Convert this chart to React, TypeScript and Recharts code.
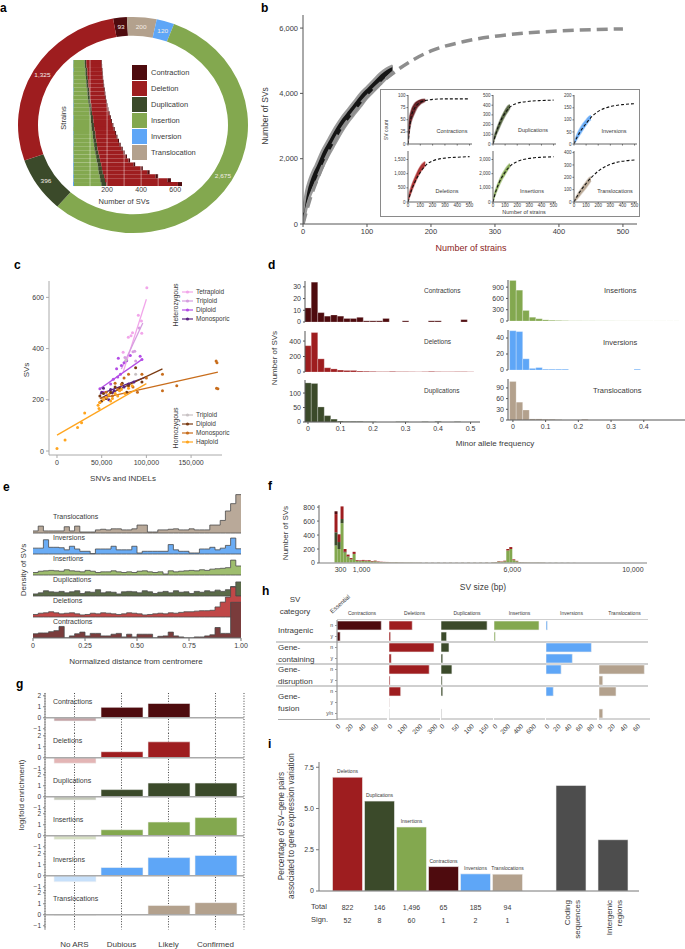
import React from 'react'
import {
  PieChart, Pie, Cell, BarChart, Bar, XAxis, YAxis, ComposedChart, Area, Line,
  Scatter, ReferenceLine, CartesianGrid, LabelList,
} from 'recharts'

const F = '"Liberation Sans", Arial, Helvetica, sans-serif'
const INK = '#3a3a3a'

const CON = '#4e0b0e'
const DEL = '#9e1d1f'
const DUP = '#3b4a2a'
const INS = '#83a84f'
const INV = '#5ea6f7'
const TRA = '#b3a18d'

// a: SV counts per type, per-strain stacked totals
const DONUT_TYPES = ['Contraction', 'Translocation', 'Inversion', 'Insertion', 'Duplication', 'Deletion']
const DONUT_COUNTS = [93, 200, 120, 2675, 396, 1325]
const DONUT_COLORS = [CON, TRA, INV, INS, DUP, DEL]
const LEGEND_TYPES = ['Contraction', 'Deletion', 'Duplication', 'Insertion', 'Inversion', 'Translocation']
const LEGEND_COLORS = [CON, DEL, DUP, INS, INV, TRA]

const STRAIN_INV = [3, 2, 4, 2, 3, 3, 2, 4, 3, 2, 3, 4, 3, 2, 4, 3, 3, 2, 4, 3, 3, 4, 2, 3, 4, 3, 5, 4, 3, 5, 4, 6]
const STRAIN_INS = [65, 67, 69, 71, 73, 75, 77, 80, 82, 85, 87, 90, 93, 96, 99, 102, 105, 108, 111, 114, 117, 120, 124, 128, 132, 136, 140, 144, 148, 152, 156, 160]
const STRAIN_DUP = [10, 10, 11, 11, 11, 12, 12, 12, 13, 13, 13, 14, 14, 14, 15, 15, 15, 16, 16, 16, 17, 17, 18, 18, 19, 20, 21, 22, 24, 26, 28, 30]
const STRAIN_DEL = [89, 89, 86, 88, 87, 87, 88, 87, 88, 90, 91, 91, 93, 98, 99, 104, 109, 113, 116, 122, 127, 132, 141, 148, 154, 167, 189, 228, 261, 301, 367, 420]
const STRAIN_CON = [3, 3, 3, 3, 3, 3, 4, 4, 4, 4, 4, 4, 5, 5, 5, 5, 5, 6, 6, 6, 6, 7, 7, 7, 8, 9, 10, 12, 14, 16, 20, 24]

// b: accumulation curve
const B_STRAINS = [0, 2, 5, 10, 15, 20, 30, 40, 50, 60, 70, 80, 90, 100, 110, 120, 130, 140]
const B_LO = [0, 150, 450, 800, 1050, 1250, 1700, 2100, 2450, 2800, 3100, 3350, 3600, 3850, 4050, 4250, 4450, 4650]
const B_HI = [350, 650, 1000, 1350, 1600, 1800, 2250, 2600, 2950, 3250, 3500, 3750, 4000, 4200, 4400, 4600, 4750, 4850]
const B_FIT_X = [0, 10, 25, 50, 75, 100, 150, 200, 250, 300, 350, 400, 450, 500]
const B_FIT_Y = [0, 700, 1500, 2550, 3300, 3900, 4750, 5300, 5580, 5750, 5850, 5910, 5950, 5975]

const INSET_X = [0, 10, 25, 50, 75, 100, 125, 140]
const INSET_FIT_X = [0, 25, 50, 100, 150, 200, 300, 400, 500]
const IN_CON_LO = [0, 25, 45, 62, 75, 82, 86, 88]
const IN_CON_HI = [15, 50, 68, 82, 88, 91, 92, 92]
const IN_CON_FIT = [0, 55, 72, 86, 90, 92, 93, 93, 93]
const IN_DUP_LO = [0, 40, 90, 160, 230, 290, 340, 370]
const IN_DUP_HI = [20, 80, 140, 220, 290, 350, 395, 405]
const IN_DUP_FIT = [0, 110, 200, 320, 390, 420, 440, 448, 452]
const IN_INV_LO = [0, 8, 20, 40, 60, 78, 95, 100]
const IN_INV_HI = [5, 20, 40, 65, 85, 100, 115, 118]
const IN_INV_FIT = [0, 28, 50, 85, 115, 135, 155, 163, 167]
const IN_DEL_LO = [0, 150, 330, 600, 850, 1050, 1200, 1300]
const IN_DEL_HI = [80, 300, 520, 800, 1050, 1250, 1380, 1420]
const IN_DEL_FIT = [0, 380, 650, 1050, 1320, 1450, 1550, 1580, 1600]
const IN_INS_LO = [0, 300, 650, 1150, 1600, 1950, 2300, 2500]
const IN_INS_HI = [150, 550, 950, 1500, 1950, 2300, 2600, 2700]
const IN_INS_FIT = [0, 800, 1350, 2100, 2600, 2850, 3080, 3160, 3190]
const IN_TRA_LO = [0, 10, 25, 55, 85, 115, 150, 170]
const IN_TRA_HI = [10, 30, 55, 95, 130, 165, 195, 205]
const IN_TRA_FIT = [0, 45, 85, 150, 205, 250, 305, 330, 340]

// c: SVs vs SNVs/INDELs
const HET_TETRA_X = [100500, 91000, 94500, 94800, 84500, 82800, 79800, 74000]
const HET_TETRA_Y = [638, 530, 508, 460, 462, 450, 444, 386]
const HET_TRI_X = [85000, 87000, 88000, 76000, 92000]
const HET_TRI_Y = [388, 390, 352, 365, 480]
const HET_DIP_X = [48000, 68600, 66700, 78000, 82000, 72000, 68000, 93000, 95000, 52000, 60000, 71000, 75000, 63000]
const HET_DIP_Y = [243, 362, 321, 353, 373, 334, 289, 370, 357, 230, 262, 300, 345, 280]
const HET_MONO_X = [50000, 55000, 60000, 62000, 64000, 70000, 75000, 80000, 86000, 52000, 58000]
const HET_MONO_Y = [230, 215, 240, 228, 235, 245, 250, 262, 270, 245, 200]
const HOM_TRI_X = [77000, 88000]
const HOM_TRI_Y = [355, 300]
const HOM_DIP_X = [48000, 52000, 55000, 60000, 65000, 70000, 73000, 78000, 80000, 88000, 95000, 50000]
const HOM_DIP_Y = [215, 225, 205, 230, 250, 245, 265, 230, 255, 325, 270, 195]
const HOM_MONO_X = [48000, 55000, 62000, 68000, 72000, 75000, 80000, 85000, 90000, 95000, 118000, 118000, 134000, 178000, 179000, 178500, 180000, 100000, 65000]
const HOM_MONO_Y = [190, 230, 215, 240, 260, 285, 300, 250, 230, 300, 235, 300, 255, 352, 345, 245, 243, 285, 265]
const HAP_X = [0, 9000, 23000, 27500, 31000, 46000, 47000, 48000, 52000, 55000, 58000, 62000, 65000, 68000, 72000, 76000, 80000, 84000, 60000, 70000]
const HAP_Y = [10, 43, 92, 110, 149, 179, 166, 190, 200, 210, 220, 205, 225, 215, 240, 225, 245, 255, 195, 235]
const FIT_TETRA = { x: [74000, 100000], y: [308, 593] }
const FIT_HET_TRI = { x: [72000, 96000], y: [320, 500] }
const FIT_HET_DIP = { x: [48000, 96000], y: [243, 360] }
const FIT_HET_MONO = { x: [48000, 100000], y: [222, 290] }
const FIT_HOM_DIP = { x: [48000, 118000], y: [205, 321] }
const FIT_HOM_MONO = { x: [48000, 180000], y: [205, 308] }
const FIT_HAP = { x: [0, 100000], y: [62, 263] }

// d: minor allele frequency histograms
const MAF_BINS = [0, 0.02, 0.04, 0.06, 0.08, 0.1, 0.12, 0.14, 0.16, 0.18, 0.2, 0.22, 0.24, 0.26, 0.28, 0.3, 0.32, 0.34, 0.36, 0.38, 0.4, 0.42, 0.44, 0.46, 0.48, 0.5]
const MAF_CON = [12, 34, 8, 5, 6, 5, 3, 3, 4, 1, 1, 1, 3, 0, 0, 1, 0, 0, 0, 1, 1, 0, 0, 0, 2, 0]
const MAF_DEL = [340, 510, 170, 55, 40, 25, 20, 20, 12, 10, 8, 5, 5, 8, 5, 5, 4, 3, 5, 8, 5, 4, 4, 5, 5, 3]
const MAF_DUP = [135, 133, 52, 22, 10, 3, 2, 2, 2, 1, 1, 0, 0, 0, 1, 1, 0, 0, 1, 0, 2, 0, 0, 1, 0, 0]
const MAF_INS = [1080, 820, 280, 100, 60, 30, 20, 15, 10, 5, 5, 4, 4, 3, 3, 3, 2, 2, 2, 2, 1, 1, 1, 1, 1, 1]
const MAF_INV = [49, 48, 14, 2, 3, 1, 1, 1, 1, 0, 0, 0, 0, 0, 0, 0, 0, 0, 0, 1, 0, 0, 0, 0, 0, 0]
const MAF_TRA = [108, 50, 28, 3, 3, 2, 2, 1, 0, 0, 0, 2, 0, 0, 0, 0, 0, 0, 0, 0, 0, 0, 0, 0, 0, 0]

// e: density along chromosome arms
const E_X = [0, 0.025, 0.05, 0.075, 0.1, 0.125, 0.15, 0.175, 0.2, 0.225, 0.25, 0.275, 0.3, 0.325, 0.35, 0.375, 0.4, 0.425, 0.45, 0.475, 0.5, 0.525, 0.55, 0.575, 0.6, 0.625, 0.65, 0.675, 0.7, 0.725, 0.75, 0.775, 0.8, 0.825, 0.85, 0.875, 0.9, 0.925, 0.95, 0.975]
const E_TRA = [0.1, 0.33, 0.1, 0.1, 0.1, 0.1, 0.3, 0.1, 0.33, 0.05, 0.05, 0.05, 0.15, 0.18, 0.15, 0.2, 0.2, 0.15, 0.15, 0.2, 0.38, 0.38, 0.05, 0.05, 0.15, 0.15, 0.18, 0.2, 0.15, 0.15, 0.2, 0.15, 0.15, 0.15, 0.38, 0.38, 0.6, 1.05, 1.4, 1.83]
const E_INV = [0.28, 0.28, 0.68, 0.32, 0.32, 0.3, 0.2, 0.37, 0.24, 0.13, 0.13, 0.02, 0.24, 0.24, 0.24, 0.37, 0.2, 0.2, 0.2, 0.37, 0.05, 0.13, 0.13, 0.13, 0.13, 0.13, 0.45, 0.2, 0.13, 0.13, 0.05, 0.05, 0.24, 0.24, 0.32, 0.2, 0.28, 0.41, 0.76, 0.25]
const E_INS = [0.12, 0.18, 0.2, 0.22, 0.2, 0.18, 0.25, 0.2, 0.18, 0.15, 0.22, 0.18, 0.12, 0.15, 0.15, 0.2, 0.15, 0.12, 0.15, 0.12, 0.18, 0.2, 0.15, 0.12, 0.15, 0.05, 0.2, 0.15, 0.18, 0.2, 0.22, 0.2, 0.25, 0.22, 0.28, 0.3, 0.32, 0.35, 0.71, 0.43]
const E_DUP = [0.1, 0.15, 0.25, 0.2, 0.18, 0.22, 0.15, 0.2, 0.25, 0.12, 0.2, 0.18, 0.3, 0.15, 0.2, 0.18, 0.1, 0.2, 0.22, 0.2, 0.15, 0.25, 0.2, 0.12, 0.18, 0.22, 0.15, 0.25, 0.18, 0.2, 0.12, 0.22, 0.18, 0.25, 0.2, 0.28, 0.22, 0.3, 0.45, 0.67]
const E_DEL = [0.12, 0.18, 0.2, 0.25, 0.2, 0.15, 0.18, 0.2, 0.15, 0.1, 0.12, 0.18, 0.15, 0.2, 0.18, 0.15, 0.12, 0.15, 0.2, 0.18, 0.15, 0.1, 0.12, 0.15, 0.18, 0.15, 0.2, 0.18, 0.22, 0.25, 0.25, 0.28, 0.3, 0.3, 0.32, 0.48, 0.71, 0.95, 1.43, 1.0]
const E_CON = [0.2, 0.24, 0.24, 0.3, 0.35, 0.55, 0, 0.1, 0.2, 0.28, 0.1, 0.22, 0.22, 0.1, 0.1, 0.18, 0.22, 0.05, 0.18, 0.05, 0.18, 0.18, 0.18, 0, 0.08, 0.1, 0.28, 0.1, 0.05, 0, 0, 0.05, 0.05, 0.1, 0.15, 0.5, 0.22, 0.22, 1.7, 1.7]

// f: SV size histogram (100 bp bins)
const F_SIZE = [150, 250, 350, 450, 550, 650, 750, 850, 950, 1050, 1150, 1250, 1350, 1450, 1550, 1650, 1750, 1850, 1950, 2050, 2150, 2250, 2350, 2450, 2550, 2650, 2750, 2850, 2950,
  3150, 3350, 3550, 3750, 3950, 4150, 4350, 4550, 4750, 4950, 5150, 5350,
  5450, 5550, 5650, 5750, 5850, 5950, 6050, 6150, 6250, 6350, 6450, 6550, 6650, 6750, 6850, 6950, 7050,
  7250, 7450, 7650, 7850, 8050]
const F_INS = [250, 200, 570, 150, 90, 50, 130, 30, 25, 30, 25, 30, 20, 25, 15, 12, 10, 10, 8, 8, 10, 6, 6, 5, 5, 6, 4, 4, 4,
  4, 3, 4, 3, 4, 3, 4, 5, 4, 5, 6, 8,
  10, 20, 15, 25, 180, 200, 40, 25, 10, 8, 6, 6, 5, 5, 6, 5, 4,
  3, 4, 3, 3, 2]
const F_DUP = [190, 100, 60, 10, 5, 3, 0, 3, 2, 2, 2, 1, 1, 1, 1, 1, 1, 1, 0, 0, 0, 0, 0, 0, 0, 0, 0, 0, 0,
  0, 0, 0, 0, 0, 0, 0, 0, 0, 0, 0, 0,
  0, 0, 0, 0, 0, 0, 0, 0, 0, 0, 0, 0, 0, 0, 0, 0, 0,
  0, 0, 0, 0, 0]
const F_DEL = [260, 110, 180, 40, 25, 17, 30, 10, 10, 12, 10, 10, 8, 8, 6, 5, 5, 4, 4, 3, 3, 3, 3, 2, 2, 2, 2, 2, 2,
  2, 2, 2, 2, 2, 2, 2, 2, 2, 2, 3, 3,
  4, 6, 6, 8, 20, 28, 12, 6, 4, 3, 3, 2, 2, 2, 2, 2, 2,
  1, 1, 1, 1, 1]
const F_CON = [40, 0, 0, 0, 0, 0, 0, 0, 0, 0, 0, 0, 0, 0, 0, 0, 0, 0, 0, 0, 0, 0, 0, 0, 0, 0, 0, 0, 0,
  0, 0, 0, 0, 0, 0, 0, 0, 0, 0, 0, 0,
  0, 0, 0, 0, 0, 0, 0, 0, 0, 0, 0, 0, 0, 0, 0, 0, 0,
  0, 0, 0, 0, 0]

// g: ARS enrichment
const G_CATS = ['No ARS', 'Dubious', 'Likely', 'Confirmed']
const G_CON = [-0.3, 0.95, 1.3, null]
const G_DEL = [-0.5, 0.55, 1.45, null]
const G_DUP = [-0.3, 0.65, 1.25, 1.25]
const G_INS = [-0.35, 0.55, 1.25, 1.65]
const G_INV = [-0.55, 0.75, 1.65, 1.85]
const G_TRA = [-0.04, null, 0.85, 1.1]

// h: gene overlap categories
const H_KEYS = ['int-n', 'int-y', 'con-n', 'con-y', 'dis-n', 'dis-y', 'fus-n', 'fus-y', 'fus-yn']
const H_TICKS = ['n', 'y', 'n', 'y', 'n', 'y', 'n', 'y', 'y/n']
const H_CON = [70, 5, 0, 0, 0, 0, 0, 0, 0]
const H_DEL = [155, 11, 300, 15, 268, 7, 78, 1, 2]
const H_DUP = [156, 19, 27, 6, 37, 4, 6, 0, 2]
const H_INS = [697, 20, 0, 0, 0, 0, 0, 0, 0]
const H_INV = [2.4, 0, 81, 47, 27, 0, 13, 0, 0]
const H_TRA = [0, 0, 0, 0, 72, 6, 27, 0, 6]

// i: expression association
const I_CATS = ['Deletions', 'Duplications', 'Insertions', 'Contractions', 'Inversions', 'Translocations']
const I_PCT = [6.9, 5.45, 3.88, 1.48, 1.04, 1.02]
const I_TOTAL = [822, 146, 1496, 65, 185, 94]
const I_SIGN = [52, 8, 60, 1, 2, 1]
const I_COLORS = [DEL, DUP, INS, CON, INV, TRA]
const I_REGIONS = ['Coding|sequences', 'Intergenic|regions']
const I_REGION_PCT = [6.4, 3.11]

const PAD = 30
function frame(x0: number, y0: number, x1: number, y1: number, yw = 0, xh = 0, pb = PAD) {
  return {
    left: x0 - PAD, top: y0 - PAD,
    width: x1 - x0 + 2 * PAD, height: y1 - y0 + PAD + pb,
    margin: { top: PAD, right: PAD, bottom: pb - xh, left: PAD - yw },
  }
}
function Place({ f, children }: any) {
  return <div style={{ position: 'absolute', left: f.left, top: f.top, width: f.width, height: f.height }}>{children}</div>
}
const tk = (size = 7) => ({ fontSize: size, fill: INK, fontFamily: F })
const num = (v: number) => v.toLocaleString('en-US')

function Txt({ x, y, children, size = 7, color = INK, anchor = 'start', rotate = 0, weight = 400 }: any) {
  const tx = anchor === 'middle' ? '-50%' : anchor === 'end' ? '-100%' : '0'
  return (
    <div style={{
      position: 'absolute', left: x, top: y, transform: `translate(${tx}, -50%) rotate(${rotate}deg)`,
      fontSize: size, color, fontFamily: F, fontWeight: weight, whiteSpace: 'nowrap', lineHeight: 1,
    }}>{children}</div>
  )
}

const RAD = Math.PI / 180
function donutLabel(p: any) {
  const r = (p.innerRadius + p.outerRadius) / 2
  const x = p.cx + r * Math.cos(-p.midAngle * RAD)
  const y = p.cy + r * Math.sin(-p.midAngle * RAD)
  return (
    <text x={x} y={y} fill="#f3ece6" fontSize={6.5} fontFamily={F} textAnchor="middle" dominantBaseline="central">
      {num(p.value)}
    </text>
  )
}

function PanelA() {
  const slices = DONUT_TYPES.map((name, i) => ({ name, value: DONUT_COUNTS[i] }))
  const strains = STRAIN_INS.map((ins, i) => ({
    id: `s${i}`, inv: STRAIN_INV[i], ins, dup: STRAIN_DUP[i], del: STRAIN_DEL[i], con: STRAIN_CON[i],
  }))
  const parts: [string, string][] = [['inv', INV], ['ins', INS], ['dup', DUP], ['del', DEL], ['con', CON]]
  const f = frame(73, 60, 182, 186, 0, 10)
  return (
    <>
      <div style={{ position: 'absolute', left: 0, top: 0, width: 270, height: 250, transform: 'scaleY(0.94)', transformOrigin: '133px 125px' }}>
        <PieChart width={270} height={250} margin={{ top: 0, right: 0, bottom: 0, left: 0 }}>
          <Pie data={slices} dataKey="value" nameKey="name" cx={133} cy={125} innerRadius={95} outerRadius={115}
            startAngle={100} endAngle={-260} stroke="none" labelLine={false} label={donutLabel} isAnimationActive={false}>
            {slices.map((s, i) => <Cell key={s.name} fill={DONUT_COLORS[i]} />)}
          </Pie>
        </PieChart>
      </div>
      <Place f={f}>
        <BarChart layout="vertical" width={f.width} height={f.height} margin={f.margin} data={strains} barCategoryGap={0}>
          <XAxis type="number" domain={[0, 640]} ticks={[200, 400, 600]} height={10} tick={tk(7)} axisLine={false}
            tickLine={false} tickSize={0} tickMargin={1} interval={0} />
          <YAxis type="category" dataKey="id" hide />
          {parts.map(([k, c]) => <Bar key={k} dataKey={k} stackId="s" fill={c} isAnimationActive={false} />)}
          {[100, 200, 300, 400, 500].map(v => <ReferenceLine key={v} x={v} stroke="#ffffff" strokeOpacity={0.45} />)}
        </BarChart>
      </Place>
      <Txt x={124} y={202} size={7.5} anchor="middle">Number of SVs</Txt>
      <Txt x={64} y={118} size={7.5} anchor="middle" rotate={-90}>Strains</Txt>
      {LEGEND_TYPES.map((t, i) => (
        <React.Fragment key={t}>
          <div style={{ position: 'absolute', left: 132, top: 65 + 16 * i, width: 15, height: 15, background: LEGEND_COLORS[i] }} />
          <Txt x={151} y={72.5 + 16 * i} size={7.5}>{t}</Txt>
        </React.Fragment>
      ))}
    </>
  )
}

const INSETS = [
  { name: 'Contractions', lo: IN_CON_LO, hi: IN_CON_HI, fit: IN_CON_FIT, color: '#5a0d12', max: 101, ticks: [0, 25, 50, 75, 100], box: [408, 95, 472, 144], bottom: false, lx: 452, ly: 132 },
  { name: 'Duplications', lo: IN_DUP_LO, hi: IN_DUP_HI, fit: IN_DUP_FIT, color: '#4a5a34', max: 505, ticks: [0, 100, 200, 300, 400, 500], box: [493, 95, 556, 144], bottom: false, lx: 533, ly: 131 },
  { name: 'Inversions', lo: IN_INV_LO, hi: IN_INV_HI, fit: IN_INV_FIT, color: INV, max: 203, ticks: [0, 50, 100, 150, 200], box: [574, 95, 637, 144], bottom: false, lx: 614, ly: 132 },
  { name: 'Deletions', lo: IN_DEL_LO, hi: IN_DEL_HI, fit: IN_DEL_FIT, color: '#a52222', max: 1800, ticks: [0, 500, 1000, 1500], box: [408, 151, 472, 202], bottom: true, lx: 447, ly: 192 },
  { name: 'Insertions', lo: IN_INS_LO, hi: IN_INS_HI, fit: IN_INS_FIT, color: INS, max: 3600, ticks: [0, 1000, 2000, 3000], box: [493, 151, 556, 202], bottom: true, lx: 532, ly: 192 },
  { name: 'Translocations', lo: IN_TRA_LO, hi: IN_TRA_HI, fit: IN_TRA_FIT, color: TRA, max: 413, ticks: [0, 100, 200, 300, 400], box: [574, 151, 637, 202], bottom: true, lx: 615, ly: 192 },
]

function InsetPlot({ p }: any) {
  const [x0, y0, x1, y1] = p.box
  const f = frame(x0, y0, x1, y1, 16, 7)
  const cloud = INSET_X.map((x, i) => ({ x, lo: p.lo[i], hi: p.hi[i] }))
  const fit = INSET_FIT_X.map((x, i) => ({ x, y: p.fit[i] }))
  return (
    <Place f={f}>
      <ComposedChart width={f.width} height={f.height} margin={f.margin}>
        <XAxis type="number" dataKey="x" domain={[0, 520]} ticks={[0, 100, 200, 300, 400, 500]} height={7} interval={0}
          tick={tk(4.5)} tickSize={1.5} tickMargin={0.5} tickFormatter={(v: number) => (p.bottom ? String(v) : '')}
          axisLine={{ stroke: '#666' }} tickLine={{ stroke: '#666' }} allowDataOverflow />
        <YAxis type="number" domain={[0, p.max]} ticks={p.ticks} width={16} tick={tk(4.5)} tickSize={1.5} tickMargin={1}
          interval={0} tickFormatter={num} axisLine={{ stroke: '#666' }} tickLine={{ stroke: '#666' }} allowDataOverflow />
        <Area data={cloud} dataKey={(d: any) => [d.lo, d.hi]} type="monotone" fill={p.color} fillOpacity={0.9}
          stroke={p.color} strokeOpacity={0.5} strokeWidth={1.5} isAnimationActive={false} />
        <Line data={fit} dataKey="y" type="monotone" stroke="#111" strokeWidth={1.1} strokeDasharray="3 2" dot={false} isAnimationActive={false} />
      </ComposedChart>
    </Place>
  )
}

function PanelB() {
  const cloud = B_STRAINS.map((x, i) => ({ x, lo: B_LO[i], hi: B_HI[i] }))
  const fit = B_FIT_X.map((x, i) => ({ x, y: B_FIT_Y[i] }))
  const f = frame(303, 15, 637, 224, 30, 16)
  return (
    <>
      <Place f={f}>
        <ComposedChart width={f.width} height={f.height} margin={f.margin}>
          <XAxis type="number" dataKey="x" domain={[0, 522]} ticks={[0, 100, 200, 300, 400, 500]} height={16} tick={tk(7.5)}
            tickSize={3} interval={0} axisLine={{ stroke: '#555' }} tickLine={{ stroke: '#555' }} allowDataOverflow />
          <YAxis type="number" domain={[0, 6400]} ticks={[0, 2000, 4000, 6000]} width={30} tick={tk(7.5)} tickSize={3}
            interval={0} tickFormatter={num} axisLine={{ stroke: '#555' }} tickLine={{ stroke: '#555' }} allowDataOverflow />
          <Area data={cloud} dataKey={(d: any) => [d.lo, d.hi]} type="monotone" fill="#151515" fillOpacity={1}
            stroke="#9a9a9a" strokeWidth={2.5} isAnimationActive={false} />
          <Line data={fit} dataKey="y" type="monotone" stroke="#8e8e8e" strokeWidth={3.5} strokeDasharray="11 6" dot={false} isAnimationActive={false} />
        </ComposedChart>
      </Place>
      <Txt x={265} y={116} size={8.5} anchor="middle" rotate={-90}>Number of SVs</Txt>
      <Txt x={471} y={248} size={9} anchor="middle" color="#8b1c1c">Number of strains</Txt>
      <div style={{ position: 'absolute', left: 380, top: 89, width: 258, height: 126, border: '1.5px solid #8a8a8a', background: '#fff' }} />
      {INSETS.map(p => <InsetPlot key={p.name} p={p} />)}
      {INSETS.map(p => <Txt key={p.name} x={p.lx} y={p.ly} size={5.5} anchor="middle">{p.name}</Txt>)}
      <Txt x={386} y={130} size={5} anchor="middle" rotate={-90}>SV count</Txt>
      <Txt x={524} y={213} size={5.5} anchor="middle">Number of strains</Txt>
    </>
  )
}

const C_GROUPS = [
  { name: 'Tetraploid', het: true, color: '#f2a6ea', xs: HET_TETRA_X, ys: HET_TETRA_Y, fit: FIT_TETRA },
  { name: 'Triploid', het: true, color: '#d69ee0', xs: HET_TRI_X, ys: HET_TRI_Y, fit: FIT_HET_TRI },
  { name: 'Diploid', het: true, color: '#b44de6', xs: HET_DIP_X, ys: HET_DIP_Y, fit: FIT_HET_DIP },
  { name: 'Monosporic', het: true, color: '#5b2383', xs: HET_MONO_X, ys: HET_MONO_Y, fit: FIT_HET_MONO },
  { name: 'Triploid', het: false, color: '#c8c2c4', xs: HOM_TRI_X, ys: HOM_TRI_Y, fit: null },
  { name: 'Diploid', het: false, color: '#7a3b12', xs: HOM_DIP_X, ys: HOM_DIP_Y, fit: FIT_HOM_DIP },
  { name: 'Monosporic', het: false, color: '#c86d1c', xs: HOM_MONO_X, ys: HOM_MONO_Y, fit: FIT_HOM_MONO },
  { name: 'Haploid', het: false, color: '#ffa51f', xs: HAP_X, ys: HAP_Y, fit: FIT_HAP },
]

function PanelC() {
  const f = frame(49, 281, 222, 455, 30, 14)
  const het = C_GROUPS.filter(g => g.het)
  const hom = C_GROUPS.filter(g => !g.het)
  const legendRow = (g: any, y: number) => (
    <React.Fragment key={g.name + y}>
      <svg style={{ position: 'absolute', left: 182, top: y - 3 }} width={11} height={6}>
        <line x1={0} y1={3} x2={11} y2={3} stroke={g.color} strokeWidth={1.2} />
        <circle cx={5.5} cy={3} r={1.6} fill={g.color} />
      </svg>
      <Txt x={196} y={y} size={6.5}>{g.name}</Txt>
    </React.Fragment>
  )
  return (
    <>
      <Place f={f}>
        <ComposedChart width={f.width} height={f.height} margin={f.margin}>
          <XAxis type="number" dataKey="x" domain={[-8950, 184600]} ticks={[0, 50000, 100000, 150000]} tickFormatter={num}
            height={14} tick={tk(7)} tickSize={3} interval={0} axisLine={{ stroke: '#aaa' }} tickLine={{ stroke: '#aaa' }} allowDataOverflow />
          <YAxis type="number" dataKey="y" domain={[-15.5, 664]} ticks={[0, 200, 400, 600]} width={30} tick={tk(7)}
            tickSize={3} interval={0} axisLine={{ stroke: '#aaa' }} tickLine={{ stroke: '#aaa' }} allowDataOverflow />
          {C_GROUPS.map((g, gi) => (
            <Scatter key={'s' + gi} data={g.xs.map((x, i) => ({ x, y: g.ys[i] }))} isAnimationActive={false}
              shape={(p: any) => <circle cx={p.cx} cy={p.cy} r={1.5} fill={g.color} />} />
          ))}
          {C_GROUPS.filter(g => g.fit).map((g, gi) => (
            <Line key={'l' + gi} data={g.fit!.x.map((x, i) => ({ x, y: g.fit!.y[i] }))} dataKey="y" stroke={g.color}
              strokeWidth={1.3} dot={false} isAnimationActive={false} />
          ))}
        </ComposedChart>
      </Place>
      <Txt x={27} y={370} size={8} anchor="middle" rotate={-90}>SVs</Txt>
      <Txt x={123} y={479} size={8} anchor="middle">SNVs and INDELs</Txt>
      <Txt x={175} y={305} size={7} anchor="middle" rotate={-90}>Heterozygous</Txt>
      <Txt x={175} y={428} size={7} anchor="middle" rotate={-90}>Homozygous</Txt>
      {het.map((g, i) => legendRow(g, 292 + 8.9 * i))}
      {hom.map((g, i) => legendRow(g, 415 + 9.1 * i))}
    </>
  )
}

const D_PLOTS = [
  { name: 'Contractions', vals: MAF_CON, color: CON, left: true, y: [281, 322], max: 35, ticks: [0, 10, 20, 30], bottom: false, lx: 424, ly: 291, size: 6.5 },
  { name: 'Deletions', vals: MAF_DEL, color: DEL, left: true, y: [331, 372], max: 530, ticks: [0, 200, 400], bottom: false, lx: 424, ly: 342, size: 6.5 },
  { name: 'Duplications', vals: MAF_DUP, color: DUP, left: true, y: [380, 422], max: 145, ticks: [0, 50, 100], bottom: true, lx: 424, ly: 391, size: 6.5 },
  { name: 'Insertions', vals: MAF_INS, color: INS, left: false, y: [280, 321], max: 1090, ticks: [0, 300, 600, 900], bottom: false, lx: 604, ly: 291, size: 7.5 },
  { name: 'Inversions', vals: MAF_INV, color: INV, left: false, y: [330, 370], max: 50, ticks: [0, 20, 40], bottom: false, lx: 603, ly: 343, size: 7.5 },
  { name: 'Translocations', vals: MAF_TRA, color: TRA, left: false, y: [379, 420], max: 115, ticks: [0, 30, 60, 90], bottom: true, lx: 593, ly: 391, size: 7.5 },
]

function PanelD() {
  return (
    <>
      {D_PLOTS.map(p => {
        const f = p.left ? frame(305, p.y[0], 480, p.y[1], 30, p.bottom ? 12 : 0) : frame(508, p.y[0], 685, p.y[1], 30, p.bottom ? 12 : 0)
        const data = MAF_BINS.map((x, i) => ({ x, v: p.vals[i] }))
        return (
          <Place key={p.name} f={f}>
            <BarChart width={f.width} height={f.height} margin={f.margin} data={data}>
              <XAxis type="number" dataKey="x" domain={p.left ? [-0.0092, 0.529] : [-0.015, 0.526]}
                ticks={p.left ? [0, 0.1, 0.2, 0.3, 0.4, 0.5] : [0, 0.1, 0.2, 0.3, 0.4]} height={p.bottom ? 12 : 0}
                tick={p.bottom ? tk(7) : false} tickLine={p.bottom ? { stroke: '#555' } : false} tickSize={2} interval={0}
                axisLine={{ stroke: '#555' }} allowDataOverflow />
              <YAxis type="number" domain={[0, p.max]} ticks={p.ticks} width={30} tick={tk(7)} tickSize={2} interval={0}
                axisLine={{ stroke: '#555' }} tickLine={{ stroke: '#555' }} allowDataOverflow />
              <Bar dataKey="v" fill={p.color} barSize={6.5} stroke="#ffffff" strokeOpacity={0.4} strokeWidth={0.6} isAnimationActive={false} />
            </BarChart>
          </Place>
        )
      })}
      {D_PLOTS.map(p => <Txt key={p.name} x={p.lx} y={p.ly} size={p.size}>{p.name}</Txt>)}
      <Txt x={275} y={358} size={8} anchor="middle" rotate={-90}>Number of SVs</Txt>
      <Txt x={495} y={444} size={8} anchor="middle">Minor allele frequency</Txt>
    </>
  )
}

const E_ROWS = [
  { key: 'tra', name: 'Translocations', vals: E_TRA, off: 5, fill: '#b9a999' },
  { key: 'inv', name: 'Inversions', vals: E_INV, off: 4, fill: '#6aacf5' },
  { key: 'ins', name: 'Insertions', vals: E_INS, off: 3, fill: '#9ebd6e' },
  { key: 'dup', name: 'Duplications', vals: E_DUP, off: 2, fill: '#5a6a48' },
  { key: 'del', name: 'Deletions', vals: E_DEL, off: 1, fill: '#c04848' },
  { key: 'con', name: 'Contractions', vals: E_CON, off: 0, fill: '#7a3c3c' },
]

function PanelE() {
  const xs = [...E_X, 1]
  const data = xs.map((x, i) => {
    const row: any = { x }
    E_ROWS.forEach(r => { row[r.key] = r.vals[Math.min(i, r.vals.length - 1)] })
    return row
  })
  const f = frame(33, 490, 241, 638, 0, 14)
  return (
    <>
      <Place f={f}>
        <ComposedChart width={f.width} height={f.height} margin={f.margin} data={data}>
          <XAxis type="number" dataKey="x" domain={[0, 1]} ticks={[0, 0.25, 0.5, 0.75, 1]} height={14} tick={tk(7)} tickSize={3}
            interval={0} tickFormatter={(v: number) => (v === 0 ? '0' : v.toFixed(2))} axisLine={{ stroke: '#777' }} tickLine={{ stroke: '#777' }} />
          <YAxis type="number" domain={[0, 7.05]} hide allowDataOverflow />
          {E_ROWS.map(r => (
            <Area key={r.key} dataKey={(d: any) => [r.off, r.off + d[r.key]]} type="stepAfter" fill={r.fill} fillOpacity={1}
              stroke="#4a4a4a" strokeWidth={0.8} isAnimationActive={false} />
          ))}
        </ComposedChart>
      </Place>
      {E_ROWS.map(r => <Txt key={r.key} x={53} y={638 - 21 * r.off - 17} size={7}>{r.name}</Txt>)}
      <Txt x={24} y={570} size={8} anchor="middle" rotate={-90}>Density of SVs</Txt>
      <Txt x={136} y={662} size={8} anchor="middle">Normalized distance from centromere</Txt>
    </>
  )
}

function PanelF() {
  const data = F_SIZE.map((x, i) => ({ x, ins: F_INS[i], dup: F_DUP[i], del: F_DEL[i], con: F_CON[i] }))
  const f = frame(319, 505, 647, 563, 30, 13)
  const parts: [string, string][] = [['ins', INS], ['dup', DUP], ['del', DEL], ['con', CON]]
  return (
    <>
      <Place f={f}>
        <BarChart width={f.width} height={f.height} margin={f.margin} data={data}>
          <XAxis type="number" dataKey="x" domain={[-415, 10470]} ticks={[300, 1000, 6000, 10000]} tickFormatter={num}
            height={13} tick={tk(7)} tickSize={2} interval={0} axisLine={{ stroke: '#aaa', strokeWidth: 1.5 }} tickLine={false} allowDataOverflow />
          <YAxis type="number" domain={[0, 830]} ticks={[0, 200, 400, 600, 800]} width={30} tick={tk(7)} tickSize={2}
            interval={0} axisLine={{ stroke: '#666' }} tickLine={{ stroke: '#666' }} allowDataOverflow />
          {parts.map(([k, c]) => <Bar key={k} dataKey={k} stackId="s" fill={c} barSize={3} isAnimationActive={false} />)}
        </BarChart>
      </Place>
      <Txt x={286} y={533} size={8} anchor="middle" rotate={-90}>Number of SVs</Txt>
      <Txt x={483} y={587} size={8.5} anchor="middle">SV size (bp)</Txt>
    </>
  )
}

const G_ROWS = [
  { name: 'Contractions', vals: G_CON, color: CON, faded: '#c4a3a6' },
  { name: 'Deletions', vals: G_DEL, color: DEL, faded: '#e3b5b5' },
  { name: 'Duplications', vals: G_DUP, color: DUP, faded: '#c3c8b8' },
  { name: 'Insertions', vals: G_INS, color: INS, faded: '#d6dfc3' },
  { name: 'Inversions', vals: G_INV, color: INV, faded: '#c7e0fa' },
  { name: 'Translocations', vals: G_TRA, color: TRA, faded: '#e2dad2' },
]

function PanelG() {
  return (
    <>
      {G_ROWS.map((r, ri) => {
        const top = 693.25 + 39.4 * ri
        const last = ri === G_ROWS.length - 1
        const f = frame(45, top, 244, top + 39.4, 30, last ? 14 : 0)
        const data = G_CATS.map((c, i) => ({ c, v: r.vals[i] }))
        return (
          <Place key={r.name} f={f}>
            <BarChart width={f.width} height={f.height} margin={f.margin} data={data}>
              <CartesianGrid horizontal={false} stroke="#444" strokeDasharray="1 1.6" />
              <XAxis dataKey="c" type="category" padding={{ left: 6, right: 5 }} height={last ? 14 : 0} hide={!last}
                tick={tk(8)} tickLine={false} axisLine={false} tickMargin={6} interval={0} />
              <YAxis type="number" domain={[-1.33, 2.25]} ticks={[-1, 0, 1, 2]} width={30} tick={tk(6.5)} tickSize={2}
                interval={0} tickFormatter={(v: number) => (v < 0 ? '\u22121' : String(v))} axisLine={{ stroke: '#888' }}
                tickLine={{ stroke: '#888' }} allowDataOverflow />
              <ReferenceLine y={0} stroke="#aaa" strokeWidth={1.6} />
              <Bar dataKey="v" barSize={42} stroke="#f4f4f4" strokeWidth={0.6} isAnimationActive={false}>
                {data.map((d, i) => <Cell key={d.c} fill={i === 0 ? r.faded : r.color} />)}
              </Bar>
            </BarChart>
          </Place>
        )
      })}
      {G_ROWS.map((r, ri) => <Txt key={r.name} x={53} y={701 + 39.4 * ri} size={7}>{r.name}</Txt>)}
      <Txt x={22} y={795} size={8} anchor="middle" rotate={-90}>log(fold enrichment)</Txt>
    </>
  )
}

const H_COLS = [
  { name: 'Contractions', vals: H_CON, color: CON, x: [337, 387], max: 79, ticks: [0, 20, 40, 60], grayYN: false },
  { name: 'Deletions', vals: H_DEL, color: DEL, x: [389, 440], max: 340, ticks: [0, 100, 200, 300], grayYN: true },
  { name: 'Duplications', vals: H_DUP, color: DUP, x: [441, 493], max: 176, ticks: [0, 50, 100, 150], grayYN: true },
  { name: 'Insertions', vals: H_INS, color: INS, x: [494, 545], max: 790, ticks: [0, 200, 400, 600], grayYN: false },
  { name: 'Inversions', vals: H_INV, color: INV, x: [546, 597], max: 91, ticks: [0, 20, 40, 60, 80], grayYN: false },
  { name: 'Translocations', vals: H_TRA, color: TRA, x: [599, 650], max: 81, ticks: [0, 20, 40, 60], grayYN: false },
]

function RotTick(p: any) {
  const y = p.y - 2
  return (
    <text x={p.x + 2} y={y} transform={`rotate(-45 ${p.x + 2} ${y})`} textAnchor="end" dominantBaseline="central"
      fontSize={6.5} fill={INK} fontFamily={F}>{p.payload.value}</text>
  )
}

function PanelH() {
  const rowLabels: [string, number][] = [['Intragenic', 631], ['Gene-', 648], ['containing', 660], ['Gene-', 670], ['disruption', 682], ['Gene-', 697], ['fusion', 709]]
  return (
    <>
      {[642, 664, 686].map(y => <div key={y} style={{ position: 'absolute', left: 276, top: y - 1, width: 372, height: 1.5, background: '#cfcfcf' }} />)}
      <div style={{ position: 'absolute', left: 337, top: 618.5, width: 311, height: 1.5, background: '#cfcfcf' }} />
      <div style={{ position: 'absolute', left: 278, top: 718.5, width: 60, height: 1.2, background: '#aaa' }} />
      {H_COLS.map((c, ci) => {
        const first = ci === 0
        const f = frame(c.x[0], 620, c.x[1], 719, first ? 8 : 0, 16)
        const data = H_KEYS.map((k, i) => ({ k, v: c.vals[i] }))
        return (
          <Place key={c.name} f={f}>
            <BarChart layout="vertical" width={f.width} height={f.height} margin={f.margin} data={data}>
              <XAxis type="number" domain={[0, c.max]} ticks={c.ticks} height={16} tick={RotTick} tickLine={false} interval={0}
                axisLine={{ stroke: '#aaa', strokeWidth: 1.2 }} allowDataOverflow />
              <YAxis type="category" dataKey="k" width={first ? 8 : 0} tick={first ? tk(5) : false} tickSize={first ? 2 : 0}
                tickFormatter={(_v: string, i: number) => H_TICKS[i]} axisLine={{ stroke: '#999', strokeWidth: 1.2 }}
                tickLine={first ? { stroke: '#999' } : false} interval={0} />
              <Bar dataKey="v" barSize={9} stroke="#eeeeee" strokeWidth={0.6} isAnimationActive={false}>
                {data.map((d, i) => <Cell key={d.k} fill={i === 8 && c.grayYN ? '#8c8c8c' : c.color} />)}
              </Bar>
            </BarChart>
          </Place>
        )
      })}
      {H_COLS.map(c => <Txt key={c.name} x={(c.x[0] + c.x[1]) / 2} y={612.5} size={5} anchor="middle">{c.name}</Txt>)}
      {rowLabels.map(([t, y], i) => <Txt key={i} x={278} y={y} size={8}>{t}</Txt>)}
      <Txt x={295} y={600} size={8} anchor="middle">SV</Txt>
      <Txt x={295} y={612} size={8} anchor="middle">category</Txt>
      <Txt x={340} y={604} size={6} anchor="middle" rotate={-42}>Essential</Txt>
    </>
  )
}

function ITick(p: any) {
  const i = p.index
  return (
    <g>
      <text x={p.x} y={p.y + 8} textAnchor="middle" dominantBaseline="central" fontSize={7} fill={INK} fontFamily={F}>{num(I_TOTAL[i])}</text>
      <text x={p.x} y={p.y + 21} textAnchor="middle" dominantBaseline="central" fontSize={7} fill={INK} fontFamily={F}>{I_SIGN[i]}</text>
    </g>
  )
}
function IRegionTick(p: any) {
  const lines = String(p.payload.value).split('|')
  return (
    <g>
      {lines.map((l, j) => {
        const x = p.x - 4 + 10 * j
        const y = p.y + 1
        return (
          <text key={j} x={x} y={y} transform={`rotate(-90 ${x} ${y})`} textAnchor="end" dominantBaseline="central"
            fontSize={8} fill={INK} fontFamily={F}>{l}</text>
        )
      })}
    </g>
  )
}

function PanelI() {
  const data = I_CATS.map((c, i) => ({ c, v: I_PCT[i] }))
  const regions = I_REGIONS.map((c, i) => ({ c, v: I_REGION_PCT[i] }))
  const f1 = frame(319, 762, 527, 891, 30, 30, 56)
  const f2 = frame(527, 762, 639, 891, 0, 30, 56)
  return (
    <>
      <Place f={f1}>
        <BarChart width={f1.width} height={f1.height} margin={f1.margin} data={data}>
          <XAxis dataKey="c" type="category" padding={{ left: 12.5, right: 3.5 }} height={30} tick={ITick} tickLine={false}
            axisLine={{ stroke: '#777' }} interval={0} />
          <YAxis type="number" domain={[0, 7.82]} ticks={[0, 2.5, 5, 7.5]} width={30} tick={tk(7)} tickSize={3} interval={0}
            tickFormatter={(v: number) => (v === 0 ? '0' : v.toFixed(1))} axisLine={{ stroke: '#777' }} tickLine={{ stroke: '#777' }} allowDataOverflow />
          <Bar dataKey="v" barSize={30} stroke="#f2f2f2" strokeWidth={0.6} isAnimationActive={false}>
            {data.map((d, i) => <Cell key={d.c} fill={I_COLORS[i]} />)}
            <LabelList dataKey="c" position="top" offset={4} style={{ fontSize: 5, fill: INK, fontFamily: F }} />
          </Bar>
        </BarChart>
      </Place>
      <Place f={f2}>
        <BarChart width={f2.width} height={f2.height} margin={f2.margin} data={regions}>
          <XAxis dataKey="c" type="category" padding={{ left: 23, right: 5 }} height={30} tick={IRegionTick} tickLine={false}
            axisLine={{ stroke: '#777' }} interval={0} />
          <YAxis type="number" domain={[0, 7.82]} hide allowDataOverflow />
          <Bar dataKey="v" barSize={30} fill="#4d4d4d" stroke="#f2f2f2" strokeWidth={0.6} isAnimationActive={false} />
        </BarChart>
      </Place>
      <Txt x={311} y={907} size={7.5}>Total</Txt>
      <Txt x={311} y={920} size={7.5}>Sign.</Txt>
      <Txt x={281} y={826} size={8.3} anchor="middle" rotate={-90}>Percentage of SV–gene pairs</Txt>
      <Txt x={291} y={826} size={8.3} anchor="middle" rotate={-90}>associated to gene expression variation</Txt>
    </>
  )
}

export default function App() {
  const letters: [string, number, number][] = [
    ['a', 0, 8], ['b', 261, 8], ['c', 14, 265], ['d', 268, 265], ['e', 3, 487],
    ['f', 268, 486], ['h', 262, 591], ['g', 16, 684], ['i', 268, 744],
  ]
  return (
    <div style={{ position: 'absolute', left: 0, top: 0, width: 685, height: 949, background: '#fff', overflow: 'hidden', fontFamily: F }}>
      <PanelB />
      <PanelA />
      <PanelC />
      <PanelD />
      <PanelE />
      <PanelF />
      <PanelG />
      <PanelH />
      <PanelI />
      {letters.map(([l, x, y]) => <Txt key={l} x={x} y={y} size={12} weight={700} color="#000">{l}</Txt>)}
    </div>
  )
}
